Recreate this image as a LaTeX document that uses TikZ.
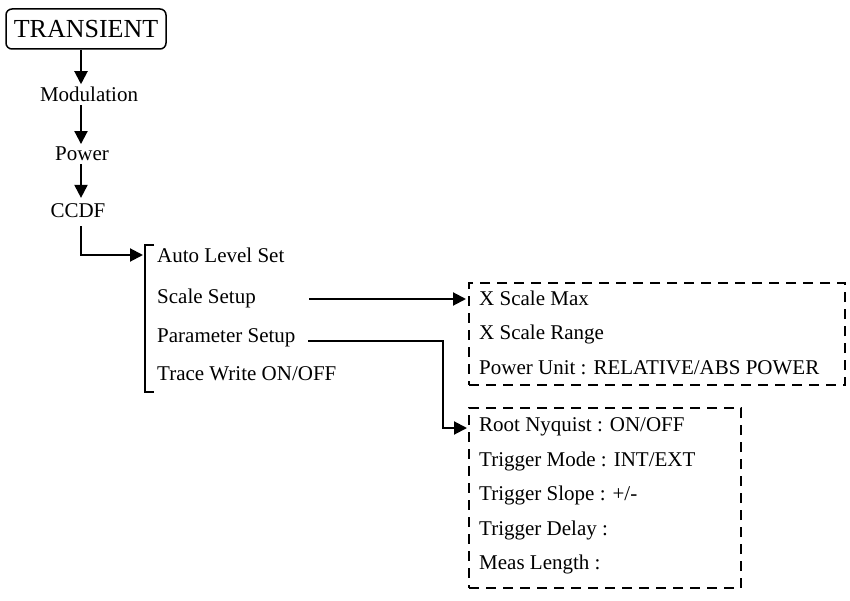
\documentclass[tikz,border=0pt]{standalone}
\usepackage{fontspec}
\setmainfont{Liberation Serif}
\usetikzlibrary{arrows.meta}
\begin{document}
\begin{tikzpicture}[x=1pt,y=-1pt,
  lbl/.style={font=\fontsize{21}{24}\selectfont, inner xsep=0pt, inner ysep=3pt},
  item/.style={lbl, anchor=base west},
  titlebox/.style={draw, line width=1.5pt, rounded corners=6pt, minimum width=160pt, minimum height=40pt, inner sep=0pt, font=\fontsize{26}{30}\selectfont},
  arr/.style={line width=2pt, -{Triangle[length=13pt,width=13pt]}},
  ln/.style={line width=2pt},
  dbox/.style={draw, line width=2pt, dash pattern=on 10pt off 7pt, inner sep=0pt}
]
\useasboundingbox (0,0) rectangle (850,601);
\coordinate (col) at (81,0);

\node[titlebox] (trans) at (86,29) {TRANSIENT};
\node[lbl, anchor=base] (mod) at (89,102) {Modulation};
\node[lbl, anchor=base] (pow) at (82,161) {Power};
\node[lbl, anchor=base] (ccdf) at (78,218) {CCDF};

\draw[arr] (trans.south -| col) -- (mod.north -| col);
\draw[arr] (mod.south -| col) -- (pow.north -| col);
\draw[arr] (pow.south -| col) -- ([yshift=3pt]ccdf.north -| col);

% bracket menu
\coordinate (btop) at (145,245);
\coordinate (bbot) at (145,392);
\draw[ln] (154,245) -- (btop) -- (bbot) -- (154,392);
\coordinate (bin) at (143,255);
\draw[arr] ([yshift=-5pt]ccdf.south -| col) |- (bin);

\node[item] (auto) at (157,263) {Auto Level Set};
\node[item] (scale) at (157,303) {Scale Setup};
\node[item] (param) at (157,342) {Parameter Setup};
\node[item] (trace) at (157,380) {Trace Write ON/OFF};

% dashed boxes
\node[dbox, minimum width=376pt, minimum height=102pt] (box1) at (657,334) {};
\node[dbox, minimum width=272pt, minimum height=180pt] (box2) at (605,498) {};

\node[item] (xmax) at (479,305) {X Scale Max};
\node[item] (xrng) at (479,339.5) {X Scale Range};
\node[item] (punit) at (479,374) {Power Unit : RELATIVE/ABS POWER};

\node[item] (rn) at (479,431) {Root Nyquist : ON/OFF};
\node[item] (tm) at (479,466) {Trigger Mode : INT/EXT};
\node[item] (ts) at (479,500.5) {Trigger Slope : +/-};
\node[item] (td) at (479,535) {Trigger Delay :};
\node[item] (ml) at (479,569.5) {Meas Length :};

% connectors
\coordinate (s1) at (309,299);
\draw[arr, shorten >=2pt] (s1) -- (s1 -| box1.west);
\coordinate (p1) at (308,341);
\coordinate (p2) at (443,428);
\draw[arr, shorten >=1pt] (p1) -| (p2) -- (p2 -| box2.west);
\end{tikzpicture}
\end{document}
